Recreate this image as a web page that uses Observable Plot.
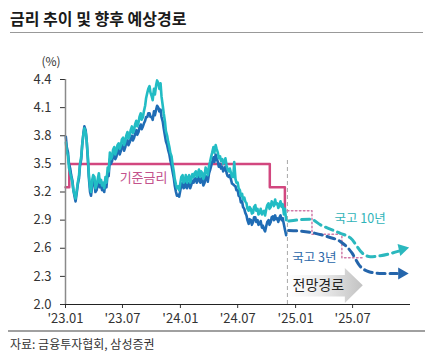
<!DOCTYPE html>
<html>
<head>
<meta charset="utf-8">
<script src="https://cdn.jsdelivr.net/npm/d3@7"></script>
<script src="https://cdn.jsdelivr.net/npm/@observablehq/plot@0.6"></script>
<style>
  html, body { margin: 0; padding: 0; background: #fff; }
  body { width: 429px; height: 360px; font-family: "Noto Sans CJK KR", "Noto Sans", sans-serif; color: #222; overflow: hidden; }
  #title { margin-left: 10px; width: 413px; height: 33px; box-sizing: border-box; padding-top: 9px; font-size: 16px; font-weight: bold; line-height: 18px; border-bottom: 1px solid #999; color: #1a1a1a; }
  #chart { height: 297px; }
  #chart svg { display: block; }
  #foot { margin-left: 8px; width: 415px; border-top: 2px solid #a0a0a0; padding-top: 4px; padding-left: 2px; font-size: 12px; line-height: 16px; color: #333; }
</style>
</head>
<body>
<div id="title">금리 추이 및 향후 예상경로</div>
<div id="chart"></div>
<div id="foot">자료: 금융투자협회, 삼성증권</div>
<script>
// ---- historical data (twice-weekly readings) ----
const dates = [
"2023-01-02","2023-01-05","2023-01-09","2023-01-12","2023-01-16","2023-01-19","2023-01-23","2023-01-26","2023-01-30","2023-02-02",
"2023-02-06","2023-02-09","2023-02-13","2023-02-16","2023-02-20","2023-02-23","2023-02-27","2023-03-02",
"2023-03-06","2023-03-09","2023-03-13","2023-03-16","2023-03-20","2023-03-23","2023-03-27","2023-03-30",
"2023-04-03","2023-04-06","2023-04-10","2023-04-13","2023-04-17","2023-04-20","2023-04-24","2023-04-27",
"2023-05-01","2023-05-04","2023-05-08","2023-05-11","2023-05-15","2023-05-18","2023-05-22","2023-05-25","2023-05-29","2023-06-01",
"2023-06-05","2023-06-08","2023-06-12","2023-06-15","2023-06-19","2023-06-22","2023-06-26","2023-06-29",
"2023-07-03","2023-07-06","2023-07-10","2023-07-13","2023-07-17","2023-07-20","2023-07-24","2023-07-27","2023-07-31","2023-08-03",
"2023-08-07","2023-08-10","2023-08-14","2023-08-17","2023-08-21","2023-08-24","2023-08-28","2023-08-31",
"2023-09-04","2023-09-07","2023-09-11","2023-09-14","2023-09-18","2023-09-21","2023-09-25","2023-09-28",
"2023-10-02","2023-10-05","2023-10-09","2023-10-12","2023-10-16","2023-10-19","2023-10-23","2023-10-26","2023-10-30","2023-11-02",
"2023-11-06","2023-11-09","2023-11-13","2023-11-16","2023-11-20","2023-11-23","2023-11-27","2023-11-30",
"2023-12-04","2023-12-07","2023-12-11","2023-12-14","2023-12-18","2023-12-21","2023-12-25","2023-12-28",
"2024-01-01","2024-01-04","2024-01-08","2024-01-11","2024-01-15","2024-01-18","2024-01-22","2024-01-25","2024-01-29","2024-02-01",
"2024-02-05","2024-02-08","2024-02-12","2024-02-15","2024-02-19","2024-02-22","2024-02-26","2024-02-29",
"2024-03-04","2024-03-07","2024-03-11","2024-03-14","2024-03-18","2024-03-21","2024-03-25","2024-03-28",
"2024-04-01","2024-04-04","2024-04-08","2024-04-11","2024-04-15","2024-04-18","2024-04-22","2024-04-25","2024-04-29","2024-05-02",
"2024-05-06","2024-05-09","2024-05-13","2024-05-16","2024-05-20","2024-05-23","2024-05-27","2024-05-30",
"2024-06-03","2024-06-06","2024-06-10","2024-06-13","2024-06-17","2024-06-20","2024-06-24","2024-06-27",
"2024-07-01","2024-07-04","2024-07-08","2024-07-11","2024-07-15","2024-07-18","2024-07-22","2024-07-25","2024-07-29","2024-08-01",
"2024-08-05","2024-08-08","2024-08-12","2024-08-15","2024-08-19","2024-08-22","2024-08-26","2024-08-29",
"2024-09-02","2024-09-05","2024-09-09","2024-09-12","2024-09-16","2024-09-19","2024-09-23","2024-09-26","2024-09-30","2024-10-03",
"2024-10-07","2024-10-10","2024-10-14","2024-10-17","2024-10-21","2024-10-24","2024-10-28","2024-10-31",
"2024-11-04","2024-11-07","2024-11-11","2024-11-14","2024-11-18","2024-11-21","2024-11-25","2024-11-28",
"2024-12-02"
];
const ktb10 = [
3.73,3.64,3.58,3.46,3.40,3.36,3.30,3.22,3.17,3.13,
3.22,3.30,3.38,3.50,3.58,3.70,3.82,3.88,
3.84,3.76,3.58,3.40,3.25,3.20,3.33,3.38,
3.36,3.24,3.28,3.33,3.40,3.30,3.33,3.27,
3.30,3.24,3.36,3.30,3.46,3.42,3.62,3.55,3.58,3.65,
3.68,3.60,3.64,3.70,3.72,3.66,3.70,3.76,
3.78,3.70,3.74,3.80,3.84,3.77,3.80,3.86,3.90,3.83,
3.86,3.92,3.96,3.90,3.94,4.00,4.04,3.97,
4.00,4.06,4.12,4.20,4.26,4.30,4.33,4.26,
4.22,4.18,4.30,4.24,4.34,4.39,4.36,4.30,4.36,4.22,
4.12,4.04,3.95,3.85,3.80,3.74,3.68,3.62,
3.58,3.50,3.42,3.34,3.28,3.24,3.26,3.22,
3.30,3.36,3.38,3.30,3.32,3.38,3.30,3.35,3.38,3.30,
3.34,3.39,3.36,3.40,3.42,3.36,3.40,3.44,
3.36,3.42,3.40,3.34,3.38,3.46,3.43,3.38,
3.48,3.52,3.58,3.62,3.68,3.62,3.70,3.66,3.62,3.56,
3.58,3.53,3.55,3.50,3.52,3.56,3.48,3.44,
3.42,3.45,3.40,3.36,3.36,3.52,3.34,3.30,
3.30,3.24,3.22,3.16,3.18,3.12,3.14,3.10,3.08,3.02,
3.00,3.04,3.02,2.97,2.98,3.04,3.06,3.00,
3.02,2.96,2.98,3.02,2.96,2.99,3.00,2.95,3.02,3.06,
3.08,3.02,3.04,3.10,3.08,3.05,3.12,3.07,
3.08,3.03,3.06,3.10,3.04,3.07,2.96,3.02,
2.90
];
const ktb3 = [
3.79,3.68,3.62,3.50,3.45,3.38,3.32,3.22,3.15,3.10,
3.20,3.28,3.35,3.48,3.55,3.70,3.83,3.90,
3.86,3.76,3.55,3.36,3.20,3.16,3.27,3.32,
3.30,3.20,3.22,3.28,3.35,3.25,3.28,3.22,
3.25,3.20,3.31,3.25,3.40,3.37,3.55,3.50,3.53,3.58,
3.62,3.55,3.58,3.64,3.66,3.60,3.64,3.69,
3.70,3.64,3.68,3.73,3.75,3.70,3.73,3.77,3.80,3.75,
3.78,3.82,3.86,3.81,3.84,3.89,3.92,3.87,
3.90,3.93,3.96,4.00,4.00,4.04,4.04,4.00,
4.00,3.97,4.06,4.02,4.08,4.12,4.10,4.06,4.08,4.00,
3.95,3.88,3.80,3.74,3.70,3.65,3.60,3.54,
3.48,3.42,3.35,3.27,3.20,3.16,3.17,3.15,
3.22,3.28,3.30,3.24,3.25,3.31,3.24,3.28,3.30,3.24,
3.28,3.32,3.30,3.34,3.35,3.30,3.33,3.37,
3.30,3.35,3.32,3.27,3.30,3.37,3.36,3.31,
3.40,3.43,3.48,3.52,3.57,3.52,3.60,3.56,3.52,3.47,
3.50,3.45,3.47,3.42,3.44,3.47,3.40,3.37,
3.36,3.38,3.33,3.29,3.28,3.27,3.26,3.22,
3.22,3.16,3.15,3.09,3.10,3.04,3.02,2.98,2.95,2.90,
2.86,2.91,2.90,2.85,2.88,2.93,2.93,2.88,
2.90,2.85,2.86,2.89,2.82,2.84,2.80,2.78,2.84,2.88,
2.90,2.85,2.88,2.93,2.94,2.90,2.95,2.91,
2.92,2.88,2.93,2.95,2.90,2.92,2.85,2.80,
2.74
];

// ---- base rate (기준금리) ----
const baseDates = ["2023-01-01","2023-01-13","2024-10-11","2024-11-28","2024-11-29"];
const baseRate  = [3.25, 3.50, 3.25, 3.00, 3.00];
const baseFcDates = ["2024-12-06","2025-02-22","2025-05-28","2025-08-07"];
const baseFc      = [3.00, 2.75, 2.50, 2.50];

// ---- forecast paths ----
const fc10Dates = ["2024-12-10","2025-02-17","2025-03-21","2025-05-23","2025-06-24","2025-08-04","2025-08-26","2025-09-27","2025-11-25"];
const fc10      = [2.89, 2.91, 2.85, 2.76, 2.71, 2.54, 2.51, 2.52, 2.57];
const fc3Dates  = ["2024-12-10","2025-02-17","2025-04-16","2025-05-24","2025-06-29","2025-07-22","2025-08-22","2025-10-03","2025-11-20"];
const fc3       = [2.79, 2.77, 2.72, 2.67, 2.55, 2.42, 2.35, 2.33, 2.33];
const arrowHeads = [
  {date: "2025-12-06", value: 2.59, angle: 77, series: "10Y"},
  {date: "2025-12-04", value: 2.33, angle: 90, series: "3Y"}
];

// ---- annotations ----
const forecastStart = "2024-12-06";
const forecastRuleTop = 3.55;
const outlookDates = ["2024-12-08","2025-06-08","2025-06-08","2025-08-04"];
const outlookTop    = [2.31, 2.31, 2.385, 2.20];
const outlookBottom = [2.08, 2.08, 2.01, 2.20];
const centerLabels = [
  {text: "기준금리", date: "2023-09-06", value: 3.35, color: "#c3528c", size: 13},
  {text: "국고 10년", date: "2025-07-25", value: 2.91, color: "#2fb3b8", size: 12.5},
  {text: "전망경로", date: "2025-03-14", value: 2.20, color: "#222222", size: 14}
];
const startLabels = [
  {text: "국고 3년", date: "2024-12-21", value: 2.50, color: "#2a66a8", size: 12.5}
];

// ---- axes ----
const yTicks = [2.0, 2.3, 2.6, 2.9, 3.2, 3.5, 3.8, 4.1, 4.4];
const xTickDates = ["2023-01-01","2023-07-01","2024-01-01","2024-07-01","2025-01-01","2025-07-01"];
const xTickLabels = ["'23.01","'23.07","'24.01","'24.07","'25.01","'25.07"];
const xDomain = ["2023-01-01","2026-01-01"];
const yDomain = [2.0, 4.4];

const D = s => new Date(s);
const hist = dates.map((d, i) => ({date: D(d), v10: ktb10[i], v3: ktb3[i]}));
const base = baseDates.map((d, i) => ({date: D(d), v: baseRate[i]}));
const baseF = baseFcDates.map((d, i) => ({date: D(d), v: baseFc[i]}));
const f10 = fc10Dates.map((d, i) => ({date: D(d), v: fc10[i]}));
const f3 = fc3Dates.map((d, i) => ({date: D(d), v: fc3[i]}));
const heads = arrowHeads.map(a => ({...a, date: D(a.date)}));
const outlook = outlookDates.map((d, i) => ({date: D(d), top: outlookTop[i], bottom: outlookBottom[i]}));
const cl = centerLabels.map(l => ({...l, date: D(l.date)}));
const sl = startLabels.map(l => ({...l, date: D(l.date)}));
const tickMap = new Map(xTickDates.map((d, i) => [D(d).getTime(), xTickLabels[i]]));

const teal = "#22bcc4", blue = "#1f6cb5", pink = "#d2477f";

const chart = Plot.plot({
  width: 429, height: 297,
  marginLeft: 65, marginRight: 19, marginTop: 46, marginBottom: 26,
  x: {type: "utc", domain: xDomain.map(D), ticks: xTickDates.map(D),
      tickFormat: d => tickMap.get(d.getTime()), tickSize: 4, tickPadding: 5, label: null},
  y: {domain: yDomain, ticks: yTicks, tickFormat: d => d.toFixed(1), tickSize: 5, tickPadding: 9, label: null},
  style: {fontFamily: "'Noto Sans CJK KR', 'Noto Sans', sans-serif", fontSize: "13px", color: "#333", background: "#fff"},
  marks: [
    Plot.areaY(outlook, {x: "date", y1: "bottom", y2: "top", fill: "#cccccc", curve: "linear"}),
    Plot.ruleX([D(forecastStart)], {y1: yDomain[0], y2: forecastRuleTop, stroke: "#a8a8a8", strokeWidth: 1, strokeDasharray: "4,3"}),
    Plot.line(base, {x: "date", y: "v", curve: "step-after", stroke: pink, strokeWidth: 2.5}),
    Plot.line(baseF, {x: "date", y: "v", curve: "step-after", stroke: "#d07aa8", strokeWidth: 1.5, strokeDasharray: "1.5,2.5"}),
    Plot.line(hist, {x: "date", y: "v3", stroke: blue, strokeWidth: 2.6}),
    Plot.line(hist, {x: "date", y: "v10", stroke: teal, strokeWidth: 2.6}),
    Plot.line(f10, {x: "date", y: "v", stroke: "#2bb8be", strokeWidth: 3, strokeDasharray: "8,5", curve: "monotone-x"}),
    Plot.line(f3, {x: "date", y: "v", stroke: "#2465ab", strokeWidth: 3, strokeDasharray: "8,5", curve: "monotone-x"}),
    Plot.dot(heads, {x: "date", y: "value", symbol: "triangle", r: 4.5, rotate: "angle",
                     fill: d => d.series === "10Y" ? "#2bb8be" : "#2465ab", stroke: null}),
    Plot.text(cl, {x: "date", y: "value", text: "text", fill: "color", textAnchor: "middle", fontSize: "size"}),
    Plot.text(sl, {x: "date", y: "value", text: "text", fill: "color", textAnchor: "start", fontSize: "size"}),
    Plot.ruleX([D(xDomain[0])], {y1: yDomain[0], y2: yDomain[1], stroke: "#8a8a8a", strokeWidth: 1.5}),
    Plot.ruleY([yDomain[0]], {stroke: "#222", strokeWidth: 1}),
    Plot.text(["(%)"], {frameAnchor: "top-left", dx: -24, dy: -22, fontSize: 12, fill: "#333"})
  ]
});

// gradient for the outlook arrow
const svg = d3.select(chart);
const defs = svg.insert("defs", ":first-child");
const g = defs.append("linearGradient").attr("id", "outlookGrad").attr("x1", "0%").attr("x2", "100%").attr("y1", "0%").attr("y2", "0%");
g.append("stop").attr("offset", "0%").attr("stop-color", "#ffffff");
g.append("stop").attr("offset", "45%").attr("stop-color", "#ececec");
g.append("stop").attr("offset", "100%").attr("stop-color", "#c2c2c2");
svg.selectAll('g[aria-label="area"] path').attr("fill", "url(#outlookGrad)");

document.getElementById("chart").appendChild(chart);
</script>
</body>
</html>
